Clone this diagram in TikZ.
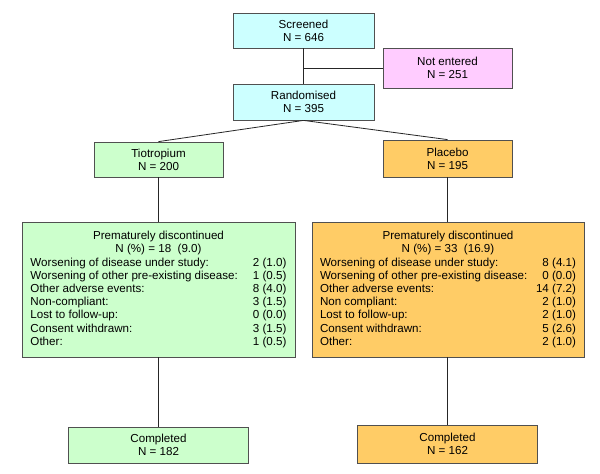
\documentclass[tikz,border=0pt]{standalone}
\usepackage{fontspec}
\setmainfont{Liberation Sans}
\definecolor{cyanbox}{HTML}{CCFFFF}
\definecolor{pinkbox}{HTML}{FFCCFF}
\definecolor{greenbox}{HTML}{CCFFCC}
\definecolor{orangebox}{HTML}{FFCC66}
\definecolor{edgegray}{HTML}{505050}
\newcommand{\rowline}[2]{\hbox to 256pt{#1\hfill #2}}
\begin{document}
\begin{tikzpicture}[x=1pt,y=-1pt,
  box/.style={draw=edgegray, line width=0.8pt, rectangle, inner sep=0pt, align=center,
    font=\fontsize{11.6}{13.2}\selectfont},
  conn/.style={draw=black!85, line width=0.8pt}]
\useasboundingbox (0,0) rectangle (600,474);
\fill[white] (0,0) rectangle (600,474);
\node[box, fill=cyanbox, minimum width=141pt, minimum height=35pt] (scr) at (303.5,30.5) {Screened\\N = 646};
\node[box, fill=pinkbox, minimum width=129pt, minimum height=40pt] (ne) at (447.5,68) {Not entered\\N = 251};
\node[box, fill=cyanbox, minimum width=141pt, minimum height=36pt] (ran) at (303.5,102) {Randomised\\N = 395};
\node[box, fill=greenbox, minimum width=129pt, minimum height=35pt] (tio) at (158.5,159.5) {Tiotropium\\N = 200};
\node[box, fill=orangebox, minimum width=129pt, minimum height=37pt] (pla) at (447.5,158.5) {Placebo\\N = 195};
\node[box, fill=greenbox, minimum width=273pt, minimum height=135pt] (dg) at (158.5,289.5) {%
Prematurely discontinued\\
N (\%) = 18\ \ (9.0)\\
\rowline{Worsening of disease under study:}{2 (1.0)}\\
\rowline{Worsening of other pre-existing disease:}{1 (0.5)}\\
\rowline{Other adverse events:}{8 (4.0)}\\
\rowline{Non-compliant:}{3 (1.5)}\\
\rowline{Lost to follow-up:}{0 (0.0)}\\
\rowline{Consent withdrawn:}{3 (1.5)}\\
\rowline{Other:}{1 (0.5)}};
\node[box, fill=orangebox, minimum width=272pt, minimum height=135pt] (dp) at (448,289.5) {%
Prematurely discontinued\\
N (\%) = 33\ \ (16.9)\\
\rowline{Worsening of disease under study:}{8 (4.1)}\\
\rowline{Worsening of other pre-existing disease:}{0 (0.0)}\\
\rowline{Other adverse events:}{14 (7.2)}\\
\rowline{Non compliant:}{2 (1.0)}\\
\rowline{Lost to follow-up:}{2 (1.0)}\\
\rowline{Consent withdrawn:}{5 (2.6)}\\
\rowline{Other:}{2 (1.0)}};
\node[box, fill=greenbox, minimum width=180pt, minimum height=36pt] (cg) at (158.5,445) {Completed\\N = 182};
\node[box, fill=orangebox, minimum width=180pt, minimum height=38pt] (cp) at (447.5,444) {Completed\\N = 162};
\coordinate (j) at (303.5,68);
\draw[conn] (scr.south) -- (ran.north);
\draw[conn] (j) -- (ne.west);
\draw[conn] (ran.south) -- (tio.north);
\draw[conn] (ran.south) -- (pla.north);
\draw[conn] (tio.south) -- (dg.north -| tio.south);
\draw[conn] (pla.south) -- (dp.north -| pla.south);
\draw[conn] (dg.south -| cg.north) -- (cg.north);
\draw[conn] (dp.south -| cp.north) -- (cp.north);
\end{tikzpicture}
\end{document}
